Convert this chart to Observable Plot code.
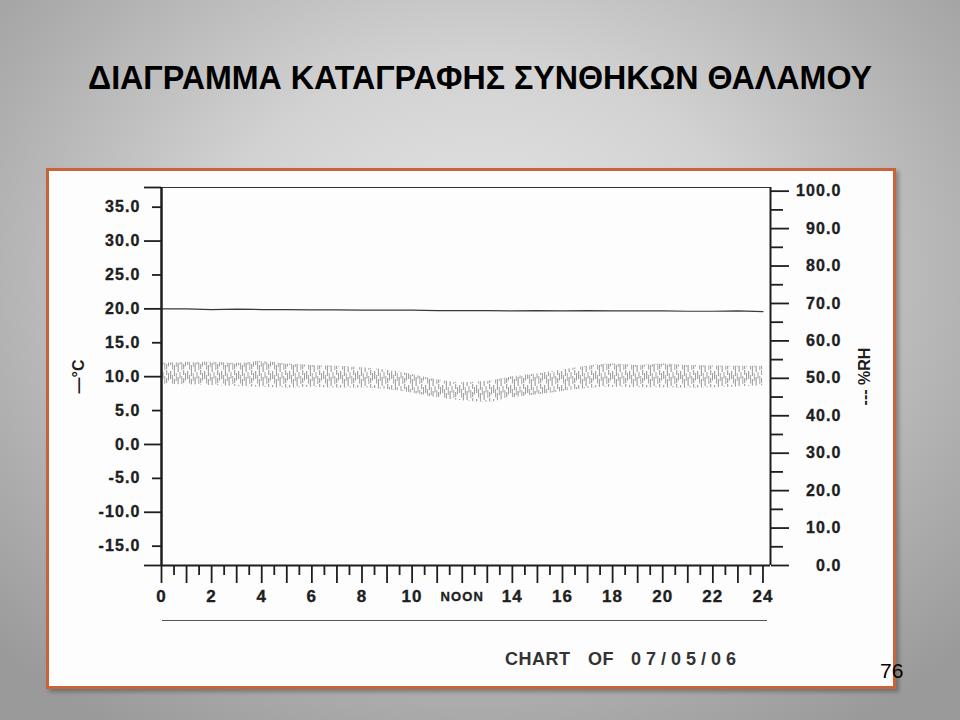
<!DOCTYPE html>
<html>
<head>
<meta charset="utf-8">
<script src="https://cdn.jsdelivr.net/npm/d3@7"></script>
<script src="https://cdn.jsdelivr.net/npm/@observablehq/plot@0.6"></script>
<style>
html, body { margin: 0; padding: 0; }
body {
  width: 960px; height: 720px; overflow: hidden; position: relative;
  background: radial-gradient(ellipse 70% 75% at 50% 38%, #e6e6e6 0%, #d2d2d2 40%, #adadad 78%, #9a9a9a 100%);
  font-family: "Liberation Sans", Arial, Helvetica, sans-serif;
}
#title {
  position: absolute; left: 88px; top: 61px; height: 33px; line-height: 33px;
  font-size: 33px; font-weight: bold; color: #000; white-space: nowrap;
  transform-origin: 0 0;
  font-family: "Liberation Sans Narrow", "Liberation Sans", Arial, sans-serif;
}
#panel {
  position: absolute; left: 46px; top: 168px; width: 844px; height: 515px;
  background: #fdfdfd; border: 3px solid #c9643a;
  box-shadow: 3px 3px 4px rgba(0,0,0,0.28);
}
#chart { position: absolute; left: 0; top: 160px; }
#chart [aria-label$="tick label"] text { letter-spacing: 1.1px; }
#rule { position: absolute; left: 162px; top: 620px; width: 605px; height: 0; border-top: 1.5px solid #555; }
#caption {
  position: absolute; left: 505px; top: 650px; line-height: 18px; font-size: 18px;
  font-weight: bold; color: #333; white-space: nowrap; word-spacing: 12px;
}
#caption .c1 { letter-spacing: 0.5px; }
#caption .c2 { letter-spacing: 5px; }
#pageno { position: absolute; left: 880px; top: 660px; line-height: 21px; font-size: 21px; color: #000; }
</style>
</head>
<body>
<div id="title">ΔΙΑΓΡΑΜΜΑ ΚΑΤΑΓΡΑΦΗΣ ΣΥΝΘΗΚΩΝ ΘΑΛΑΜΟΥ</div>
<div id="panel"></div>
<div id="chart"></div>
<div id="rule"></div>
<div id="caption"><span class="c1">CHART OF</span> <span class="c2">07/05/06</span></div>
<div id="pageno">76</div>
<script>
// ---- data ----
const hours = [0,1,2,3,4,5,6,7,8,9,10,11,12,13,14,15,16,17,18,19,20,21,22,23,24];
const tempC = [20.0,20.0,19.9,19.95,19.9,19.9,19.85,19.85,19.8,19.8,19.8,19.75,19.75,19.75,19.7,19.75,19.7,19.75,19.7,19.7,19.7,19.65,19.65,19.7,19.6];
const rhHigh = [54.0,54.2,54.3,54.0,54.5,53.8,53.4,53.2,52.8,52.2,51.0,49.6,48.8,49.2,50.4,51.2,52.2,53.2,53.8,53.4,53.8,53.4,53.3,53.2,53.2];
const rhLow  = [48.4,48.3,48.1,47.8,47.6,47.4,47.6,47.4,47.4,47.0,46.1,44.8,44.0,43.6,44.8,45.6,46.5,47.3,47.6,47.5,47.5,47.4,47.5,47.7,48.0];

const hourTicks = [0,1,2,3,4,5,6,7,8,9,10,11,12,13,14,15,16,17,18,19,20,21,22,23,24];
const halfHourTicks = [0.5,1.5,2.5,3.5,4.5,5.5,6.5,7.5,8.5,9.5,10.5,11.5,12.5,13.5,14.5,15.5,16.5,17.5,18.5,19.5,20.5,21.5,22.5,23.5];
const hourLabelTicks = [0,2,4,6,8,10,14,16,18,20,22,24];
const noonTick = [12];
const noonLabel = "NOON";
const tempMajorTicks = [-10,0,10,20,30];
const tempMinorTicks = [-15,-5,5,15,25,35];
const tempLabelTicks = [-15,-10,-5,0,5,10,15,20,25,30,35];
const rhMajorTicks = [0,10,20,30,40,50,60,70,80,90,100];
const rhMinorTicks = [5,15,25,35,45,55,65,75,85,95];
const tempLabel = "—°C";
const rhLabel = "--- %RH";

// ---- scales: y in °C, RH mapped on the same pixel range ----
const yDomain = [-17.85, 37.9];
const xDomain = [0, 24.3];
const rhToC = rh => -17.85 + rh * 0.5521;
const cToRh = c => (c + 17.85) / 0.5521;

const rows = hours.map((h, i) => ({hour: h, temp: tempC[i], rhHi: rhToC(rhHigh[i]), rhLo: rhToC(rhLow[i])}));

const ink = "#1e1e1e";
const tickOnly = {tickFormat: null, label: null, fill: "none", strokeWidth: 1.8, stroke: ink};
const textOnly = {tickSize: 0, stroke: "none", fill: ink, fontWeight: "bold", textStroke: ink, textStrokeWidth: 0.35};

const plot = Plot.plot({
  width: 960,
  height: 480,
  marginTop: 27,
  marginBottom: 75,
  marginLeft: 161,
  marginRight: 190,
  style: {background: "transparent", fontFamily: "'Liberation Sans', Arial, sans-serif", color: ink, overflow: "visible"},
  x: {domain: xDomain, label: null},
  y: {domain: yDomain, label: null},
  marks: [
    Plot.areaY(rows, {x: "hour", y1: "rhLo", y2: "rhHi", fill: "url(#rhHatch)", curve: "monotone-x"}),
    Plot.lineY(rows, {x: "hour", y: "temp", stroke: "#3a3a3a", strokeWidth: 1.2}),
    // frame lines
    Plot.ruleY([yDomain[1]], {stroke: "#333", strokeWidth: 1}),
    Plot.ruleY([yDomain[0]], {stroke: ink, strokeWidth: 2.2}),
    Plot.ruleX([xDomain[0]], {stroke: ink, strokeWidth: 2.5}),
    Plot.ruleX([xDomain[1]], {stroke: ink, strokeWidth: 2}),
    // left axis
    Plot.axisY({anchor: "left", ticks: [...tempMajorTicks, yDomain[0], yDomain[1]], tickSize: 17, ...tickOnly}),
    Plot.axisY({anchor: "left", ticks: tempMinorTicks, tickSize: 9, ...tickOnly}),
    Plot.axisY({anchor: "left", ticks: tempLabelTicks, ...textOnly, tickPadding: 21, tickFormat: d => d.toFixed(1),
      fontSize: 16, label: tempLabel, labelAnchor: "center", labelOffset: 89, labelArrow: "none"}),
    // right axis
    Plot.axisY({anchor: "right", ticks: rhMajorTicks.map(rhToC), tickSize: 18, ...tickOnly}),
    Plot.axisY({anchor: "right", ticks: rhMinorTicks.map(rhToC), tickSize: 12, ...tickOnly}),
    Plot.axisY({anchor: "right", ticks: rhMajorTicks.map(rhToC), ...textOnly, tickPadding: 71, textAnchor: "end",
      tickFormat: d => cToRh(d).toFixed(1), fontSize: 16,
      label: rhLabel, labelAnchor: "center", labelOffset: 99, labelArrow: "none"}),
    // bottom axis
    Plot.axisX({anchor: "bottom", ticks: hourTicks, tickSize: 18, ...tickOnly}),
    Plot.axisX({anchor: "bottom", ticks: halfHourTicks, tickSize: 10, ...tickOnly}),
    Plot.axisX({anchor: "bottom", ticks: hourLabelTicks, ...textOnly, tickPadding: 24, fontSize: 17, label: null}),
    Plot.axisX({anchor: "bottom", ticks: noonTick, ...textOnly, tickPadding: 26, tickFormat: () => noonLabel, fontSize: 13, label: null})
  ]
});

d3.select(plot).insert("defs", ":first-child").html(`
  <pattern id="rhHatch" patternUnits="userSpaceOnUse" width="17" height="14">
    <g stroke-width="0.85">
      <line x1="0.7" y1="1" x2="0.7" y2="9" stroke="#7c7c7c"/>
      <line x1="2.6" y1="5" x2="2.6" y2="13.5" stroke="#929292"/>
      <line x1="4.4" y1="0" x2="4.4" y2="6" stroke="#858585"/>
      <line x1="4.4" y1="9" x2="4.4" y2="14" stroke="#858585"/>
      <line x1="6.3" y1="3" x2="6.3" y2="11" stroke="#9a9a9a"/>
      <line x1="8.1" y1="7" x2="8.1" y2="14" stroke="#7a7a7a"/>
      <line x1="8.1" y1="0" x2="8.1" y2="2" stroke="#7a7a7a"/>
      <line x1="10.0" y1="2" x2="10.0" y2="8.5" stroke="#8c8c8c"/>
      <line x1="11.8" y1="6" x2="11.8" y2="14" stroke="#959595"/>
      <line x1="13.7" y1="0" x2="13.7" y2="5" stroke="#808080"/>
      <line x1="13.7" y1="8" x2="13.7" y2="13" stroke="#808080"/>
      <line x1="15.5" y1="3" x2="15.5" y2="10.5" stroke="#8e8e8e"/>
    </g>
  </pattern>`);

document.getElementById("chart").appendChild(plot);

// fit title to its width in the reference
const t = document.getElementById("title");
const w = t.getBoundingClientRect().width;
t.style.transform = `scaleX(${784 / w})`;
</script>
</body>
</html>
